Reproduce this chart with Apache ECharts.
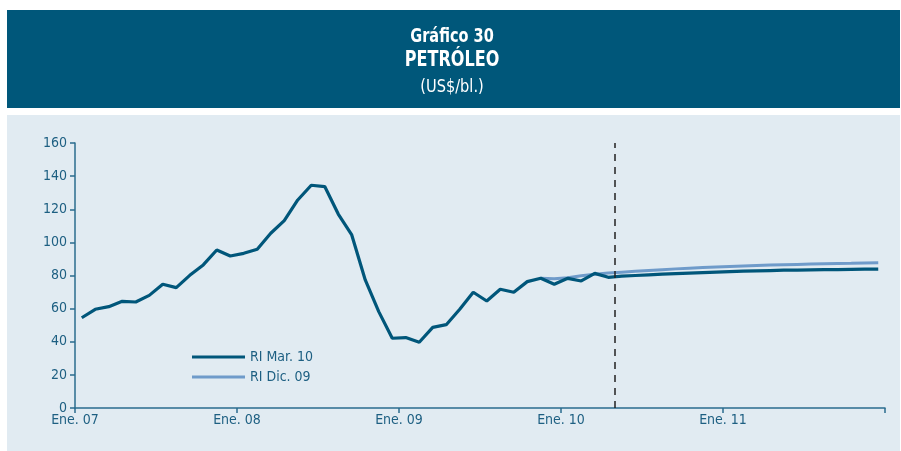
<!DOCTYPE html>
<html>
<head>
<meta charset="utf-8">
<script src="https://cdn.jsdelivr.net/npm/echarts@6/dist/echarts.min.js"></script>
<style>
html,body{margin:0;padding:0;background:#fff;}
#chart{width:901px;height:451px;}
</style>
</head>
<body>
<div id="chart"></div>
<script>
// meses: Ene.07 .. Dic.11 (indice 0..59)
var yearLabels = ['Ene. 07', 'Ene. 08', 'Ene. 09', 'Ene. 10', 'Ene. 11'];
// RI Mar. 10: efectivo hasta Abr.10, luego futuros
var riMar10 = [
  54.5, 59.6, 61.2, 64.4, 64.0, 68.0, 74.7, 72.7, 80.1, 86.4, 95.4, 91.8,
  93.4, 95.8, 105.5, 113.1, 125.6, 134.5, 133.7, 117.1, 104.5, 77.3, 58.2, 42.1,
  42.5, 39.7, 48.7, 50.3, 59.6, 69.9, 64.6, 71.7, 69.9, 76.3, 78.3, 74.7,
  78.3, 76.7, 81.3, 78.9, 79.6, 80.0, 80.4, 80.8, 81.1, 81.4, 81.7, 82.0,
  82.3, 82.6, 82.8, 83.0, 83.2, 83.3, 83.4, 83.5, 83.6, 83.7, 83.8, 83.9
];
// RI Dic. 09: solo se ve desde Nov.09 (indice 34)
var riDic09Start = 34;
var riDic09 = [
  78.3, 78.0, 78.7, 79.9, 80.8, 81.5, 82.0, 82.5, 83.0, 83.5, 84.0, 84.4, 84.8,
  85.2, 85.5, 85.8, 86.1, 86.3, 86.5, 86.7, 86.9, 87.1, 87.3, 87.4, 87.6, 87.7
];
var cutMonth = 40; // linea vertical (May.10)

var myChart = echarts.init(document.getElementById('chart'));
var fnt = '"DejaVu Sans Condensed", "Liberation Sans Narrow", sans-serif';
var txtColor = '#1d5f82';
var axisColor = '#2a6c8e';

function toPairs(arr, start) {
  var out = [];
  for (var i = 0; i < arr.length; i++) {
    out.push([start + i + 0.5, arr[i]]);
  }
  return out;
}

var option = {
  animation: false,
  backgroundColor: '#ffffff',
  textStyle: { fontFamily: fnt },
  graphic: [
    { type: 'rect', z: -10, shape: { x: 7, y: 10, width: 893, height: 98 }, style: { fill: '#00577a' } },
    { type: 'rect', z: -10, shape: { x: 7, y: 115, width: 893, height: 336 }, style: { fill: '#e1ebf2' } },
    { type: 'text', x: 452, y: 37, scaleX: 0.85, style: { text: 'Gráfico 30', fill: '#fff', font: 'bold 19px ' + fnt, align: 'center', verticalAlign: 'middle' } },
    { type: 'text', x: 452, y: 61, scaleX: 0.85, style: { text: 'PETRÓLEO', fill: '#fff', font: 'bold 21px ' + fnt, align: 'center', verticalAlign: 'middle' } },
    { type: 'text', x: 452, y: 87, scaleX: 0.9, style: { text: '(US$/bl.)', fill: '#fff', font: '18px ' + fnt, align: 'center', verticalAlign: 'middle' } }
  ],
  grid: { left: 75, right: 16, top: 143, bottom: 43 },
  legend: {
    orient: 'vertical',
    left: 187,
    top: 345,
    icon: 'rect',
    itemWidth: 53,
    itemHeight: 3,
    itemGap: 6,
    textStyle: { color: txtColor, fontSize: 14, fontFamily: fnt },
    data: ['RI Mar. 10', 'RI Dic. 09']
  },
  xAxis: {
    type: 'value',
    min: 0,
    max: 60,
    interval: 12,
    splitLine: { show: false },
    axisLine: { lineStyle: { color: axisColor, width: 1.5 } },
    axisTick: { show: true, length: 5, lineStyle: { color: axisColor, width: 1.5 } },
    axisLabel: {
      color: txtColor, fontSize: 14, fontFamily: fnt, margin: 5,
      formatter: function (v) { return yearLabels[v / 12] || ''; }
    }
  },
  yAxis: {
    type: 'value',
    min: 0,
    max: 160,
    interval: 20,
    splitLine: { show: false },
    axisLine: { show: true, lineStyle: { color: axisColor, width: 1.5 } },
    axisTick: { show: true, length: 5, lineStyle: { color: axisColor, width: 1.5 } },
    axisLabel: { color: txtColor, fontSize: 14, fontFamily: fnt, margin: 8 }
  },
  series: [
    {
      name: 'RI Dic. 09',
      type: 'line',
      showSymbol: false,
      z: 2,
      data: toPairs(riDic09, riDic09Start),
      lineStyle: { color: '#6f9bca', width: 3 },
      itemStyle: { color: '#6f9bca' }
    },
    {
      name: 'RI Mar. 10',
      type: 'line',
      showSymbol: false,
      z: 3,
      data: toPairs(riMar10, 0),
      lineStyle: { color: '#00567a', width: 3.2 },
      itemStyle: { color: '#00567a' },
      markLine: {
        silent: true,
        symbol: 'none',
        label: { show: false },
        lineStyle: { color: '#222', type: [7, 6], width: 1.5 },
        data: [{ xAxis: cutMonth }]
      }
    }
  ]
};
myChart.setOption(option);
</script>
</body>
</html>
